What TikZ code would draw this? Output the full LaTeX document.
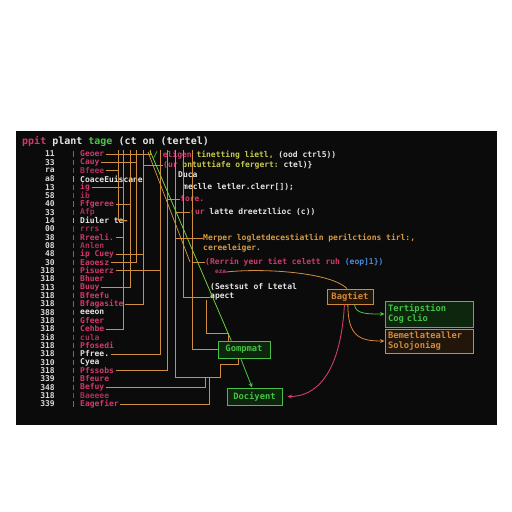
\documentclass[tikz,border=0pt]{standalone}
\usepackage{fontspec}
\setmonofont{DejaVu Sans Mono}
\usepackage{tikz}
\usetikzlibrary{arrows.meta}
\definecolor{panel}{HTML}{0B0B0B}
\definecolor{codepink}{HTML}{D2386E}
\definecolor{dimpink}{HTML}{A83058}
\definecolor{codewhite}{HTML}{E4E4E4}
\definecolor{codeyellow}{HTML}{C8C84A}
\definecolor{codegreen}{HTML}{48C848}
\definecolor{codeblue}{HTML}{4A8CDC}
\definecolor{codeorange}{HTML}{D89A40}
\definecolor{codecyan}{HTML}{60B8C8}
\definecolor{numgray}{HTML}{D8D8D8}
\definecolor{wireorange}{HTML}{D08E40}
\definecolor{boxgreen}{HTML}{46C046}
\definecolor{boxgreenfill}{HTML}{0E260E}
\definecolor{boxorange}{HTML}{D08A3A}
\definecolor{boxorangefill}{HTML}{22160A}
\definecolor{arrowpink}{HTML}{D03C66}

\begin{document}
\begin{tikzpicture}[x=1pt,y=-1pt]
\tikzset{
  code/.style={anchor=west,inner sep=0pt,font=\ttfamily\bfseries\fontsize{8}{9}\selectfont},
  wire/.style={draw=wireorange,line width=0.8pt},
  gbox/.style={draw=boxgreen,fill=boxgreenfill,line width=0.9pt,text=boxgreen,inner sep=2pt,font=\ttfamily\bfseries\fontsize{8.8}{10}\selectfont},
  obox/.style={draw=boxorange,fill=boxorangefill,line width=0.9pt,text=boxorange,inner sep=2pt,font=\ttfamily\bfseries\fontsize{8.8}{10}\selectfont},
  tip/.style={-{Stealth[length=4.5pt,width=4pt]}}
}
\useasboundingbox (0,0) rectangle (512,512);
\fill[white] (0,0) rectangle (512,512);
\fill[panel] (16,131) rectangle (497,425);

\node[code,font=\ttfamily\bfseries\fontsize{10}{11}\selectfont] (title) at (22,141)
  {\textcolor{codepink}{ppit} \textcolor{codewhite}{plant} \textcolor{codegreen}{tage} \textcolor{codewhite}{(ct on (tertel)}};

\foreach \i/\n/\t/\c/\b in {
  1/11/Geoer/codepink/codepink, 2/33/Cauy/codepink/codepink,
  3/ra/Bfeee/dimpink/dimpink, 4/a8/CoaceEuiscane/codewhite/codecyan,
  5/13/ig/codepink/codepink, 6/58/ib/dimpink/dimpink,
  7/40/Ffgeree/codepink/codepink, 8/33/Afp/dimpink/dimpink,
  9/14/Diuler te-/codewhite/codecyan, 10/00/rrrs/dimpink/dimpink,
  11/38/Rreeli./codepink/codepink, 12/08/Anlen/dimpink/dimpink,
  13/48/ip Cuey/codepink/codepink, 14/30/Eaoesz/codepink/codepink,
  15/318/Pisuerz/codepink/codepink, 16/318/Bhuer/codepink/codepink,
  17/313/Buuy/codepink/codepink, 18/318/Bfeefu/codepink/codepink,
  19/318/Bfagasite/codepink/codepink, 20/388/eeeon/codewhite/codepink,
  21/318/Gfeer/codepink/codepink, 22/318/Cehbe/codepink/codepink,
  23/3i8/cula/dimpink/dimpink, 24/318/Pfosedi/codepink/codepink,
  25/318/Pfree./codewhite/codepink, 26/310/Cyea/codewhite/codepink,
  27/318/Pfssobs/codepink/codepink, 28/339/Bfeure/codepink/codepink,
  29/348/Befuy/codepink/codepink, 30/318/Baeeee/dimpink/dimpink,
  31/339/Eagefier/codepink/codepink} {
  \pgfmathsetmacro\yy{154+(\i-1)*8.33}
  \node[code,anchor=east,text=numgray] (n\i) at (55,\yy) {\n};
  \draw[\b,line width=0.8pt] (73,\yy-2.6) -- (73,\yy+2.6);
  \node[code,text=\c] (l\i) at (80,\yy) {\t};
}

\coordinate (bA) at (118,150);
\coordinate (bB) at (123,150);
\coordinate (bC) at (130,150);
\coordinate (bD) at (136,150);
\coordinate (bE) at (143,150);
\coordinate (bF) at (150,150);
\coordinate (bG) at (160,150);
\coordinate (bH) at (167,150);
\coordinate (bI) at (175,150);
\coordinate (bJ) at (183,150);
\coordinate (bK) at (192,150);
\coordinate (bL) at (205,377);
\coordinate (bM) at (209,377);

\draw[wire,shorten <=1.5pt] (l1.east) -| (bF);
\draw[wire,shorten <=1.5pt] (l2.east) -| (bD);
\draw[wire,shorten <=1.5pt] (l3.east) -| (bA);
\draw[wire,shorten <=1.5pt] (l5.east) -| (bB);
\draw[wire,shorten <=1.5pt] (l7.east) -| (bC);
\draw[wire,shorten <=1.5pt] (l9.east) -| (bA);
\draw[wire,shorten <=1.5pt] (l11.east) -| (bB);
\draw[wire,shorten <=1.5pt] (l13.east) -| (bE);
\draw[wire,shorten <=1.5pt] (l14.east) -| (bD);
\draw[wire,shorten <=1.5pt] (l15.east) -| (bG);
\draw[wire,shorten <=1.5pt] (l17.east) -| (bC);
\draw[wire,shorten <=1.5pt] (l19.east) -| (bE);
\draw[wire,shorten <=1.5pt] (l22.east) -| (bB);
\draw[wire,shorten <=1.5pt] (l25.east) -| (bG);
\draw[wire,shorten <=1.5pt] (l27.east) -| (bH);
\draw[wire,shorten <=1.5pt] (l29.east) -| (bL);
\draw[wire,shorten <=1.5pt] (l31.east) -| (bM);

\node[code] (t1) at (153,155) {\textcolor{codegreen}{/} \textcolor{codepink}{eligen} \textcolor{codeyellow}{tinetting lietl,} \textcolor{codewhite}{(ood ctrl5))}};
\node[code] (t2) at (163,165) {\textcolor{codepink}{(ur} \textcolor{codeyellow}{bntuttiafe ofergert:} \textcolor{codewhite}{ctel)\}}};
\node[code,text=codewhite] (t3) at (178,175) {Duca};
\node[code,text=codewhite] (t4) at (183,187) {meclle letler.clerr[]);};
\node[code,text=codepink] (t5) at (180,199) {fore.};
\node[code] (t6) at (190,212) {\textcolor{codepink}{(ur} \textcolor{codewhite}{latte dreetzllioc (c))}};
\node[code,text=codeorange] (t7) at (203,238) {Merper logletdecestiatlin perilctions tirl:,};
\node[code,text=codeorange] (t8) at (203,248) {cereeleiger.};
\node[code] (t9) at (205,262) {\textcolor{codepink}{(Rerrin yeur tiet celett ruh} \textcolor{codeblue}{(eop]1\})}};
\node[code,text=codepink,font=\ttfamily\bfseries\fontsize{6}{7}\selectfont] (t10) at (215,272) {eza};
\node[code,text=codewhite] (t11) at (210,287) {(Sestsut of Ltetal};
\node[code,text=codewhite] (t12) at (210,297) {apect};

\node[gbox,minimum width=52pt,minimum height=17pt] (gomp) at (244,349.5) {Gompmat};
\node[gbox,minimum width=55pt,minimum height=17pt] (doc) at (254.5,396.5) {Dociyent};
\node[obox,minimum width=46pt,minimum height=15pt] (bag) at (350,296.5) {Bagtiet};
\node[gbox,minimum width=88pt,minimum height=26pt,text width=82pt,align=left] (tert) at (429,314) {Tertipstion\\Cog clio};
\node[obox,minimum width=88pt,minimum height=24pt,text width=82pt,align=left] (bem) at (429,341) {Bemetlatealler\\Solojoniag};

\draw[wire] (bH |- t5.west) -- (t5.west);
\draw[wire] (bE |- t2.west) -- (t2.west);
\draw[wire] (bI |- t6.west) -- (t6.west);
\draw[wire] (bI |- t7.west) -- (t7.west);
\draw[wire] (bK |- t9.west) -- (t9.west);
\draw[wire] (bJ) -- (bJ |- t12.west) -- (t12.west);
\draw[wire] (bK) |- (gomp.west);
\draw[wire] (bI) -- (175,377) -- (220,377) -- (220,364) -- (238,364) -- (238,358);
\draw[wire] (206,300) -- (206,333) -- (228,333) -- (228,341);

\coordinate (diagtop) at (150,151);
\draw[codeorange,line width=0.7pt] (148,152) -- (190,262);
\draw[codegreen!80!yellow,line width=0.8pt] (diagtop) -- (gomp.145);
\draw[codegreen,line width=0.8pt,tip] (gomp.250) -- (doc.105);

\draw[wireorange,line width=0.8pt] (t10.east) .. controls (262,268) and (330,272) .. (bag.110);
\draw[codegreen,line width=0.8pt,tip] (bag.300) .. controls +(0,10) and +(-15,0) .. (tert.west);
\draw[boxorange,line width=0.8pt,tip] (bag.255) .. controls +(0,32) and +(-25,0) .. (bem.west);
\draw[arrowpink,line width=0.9pt,tip,shorten >=5pt] (bag.235) .. controls +(-4,72) and +(32,0) .. (doc.east);
\end{tikzpicture}
\end{document}
